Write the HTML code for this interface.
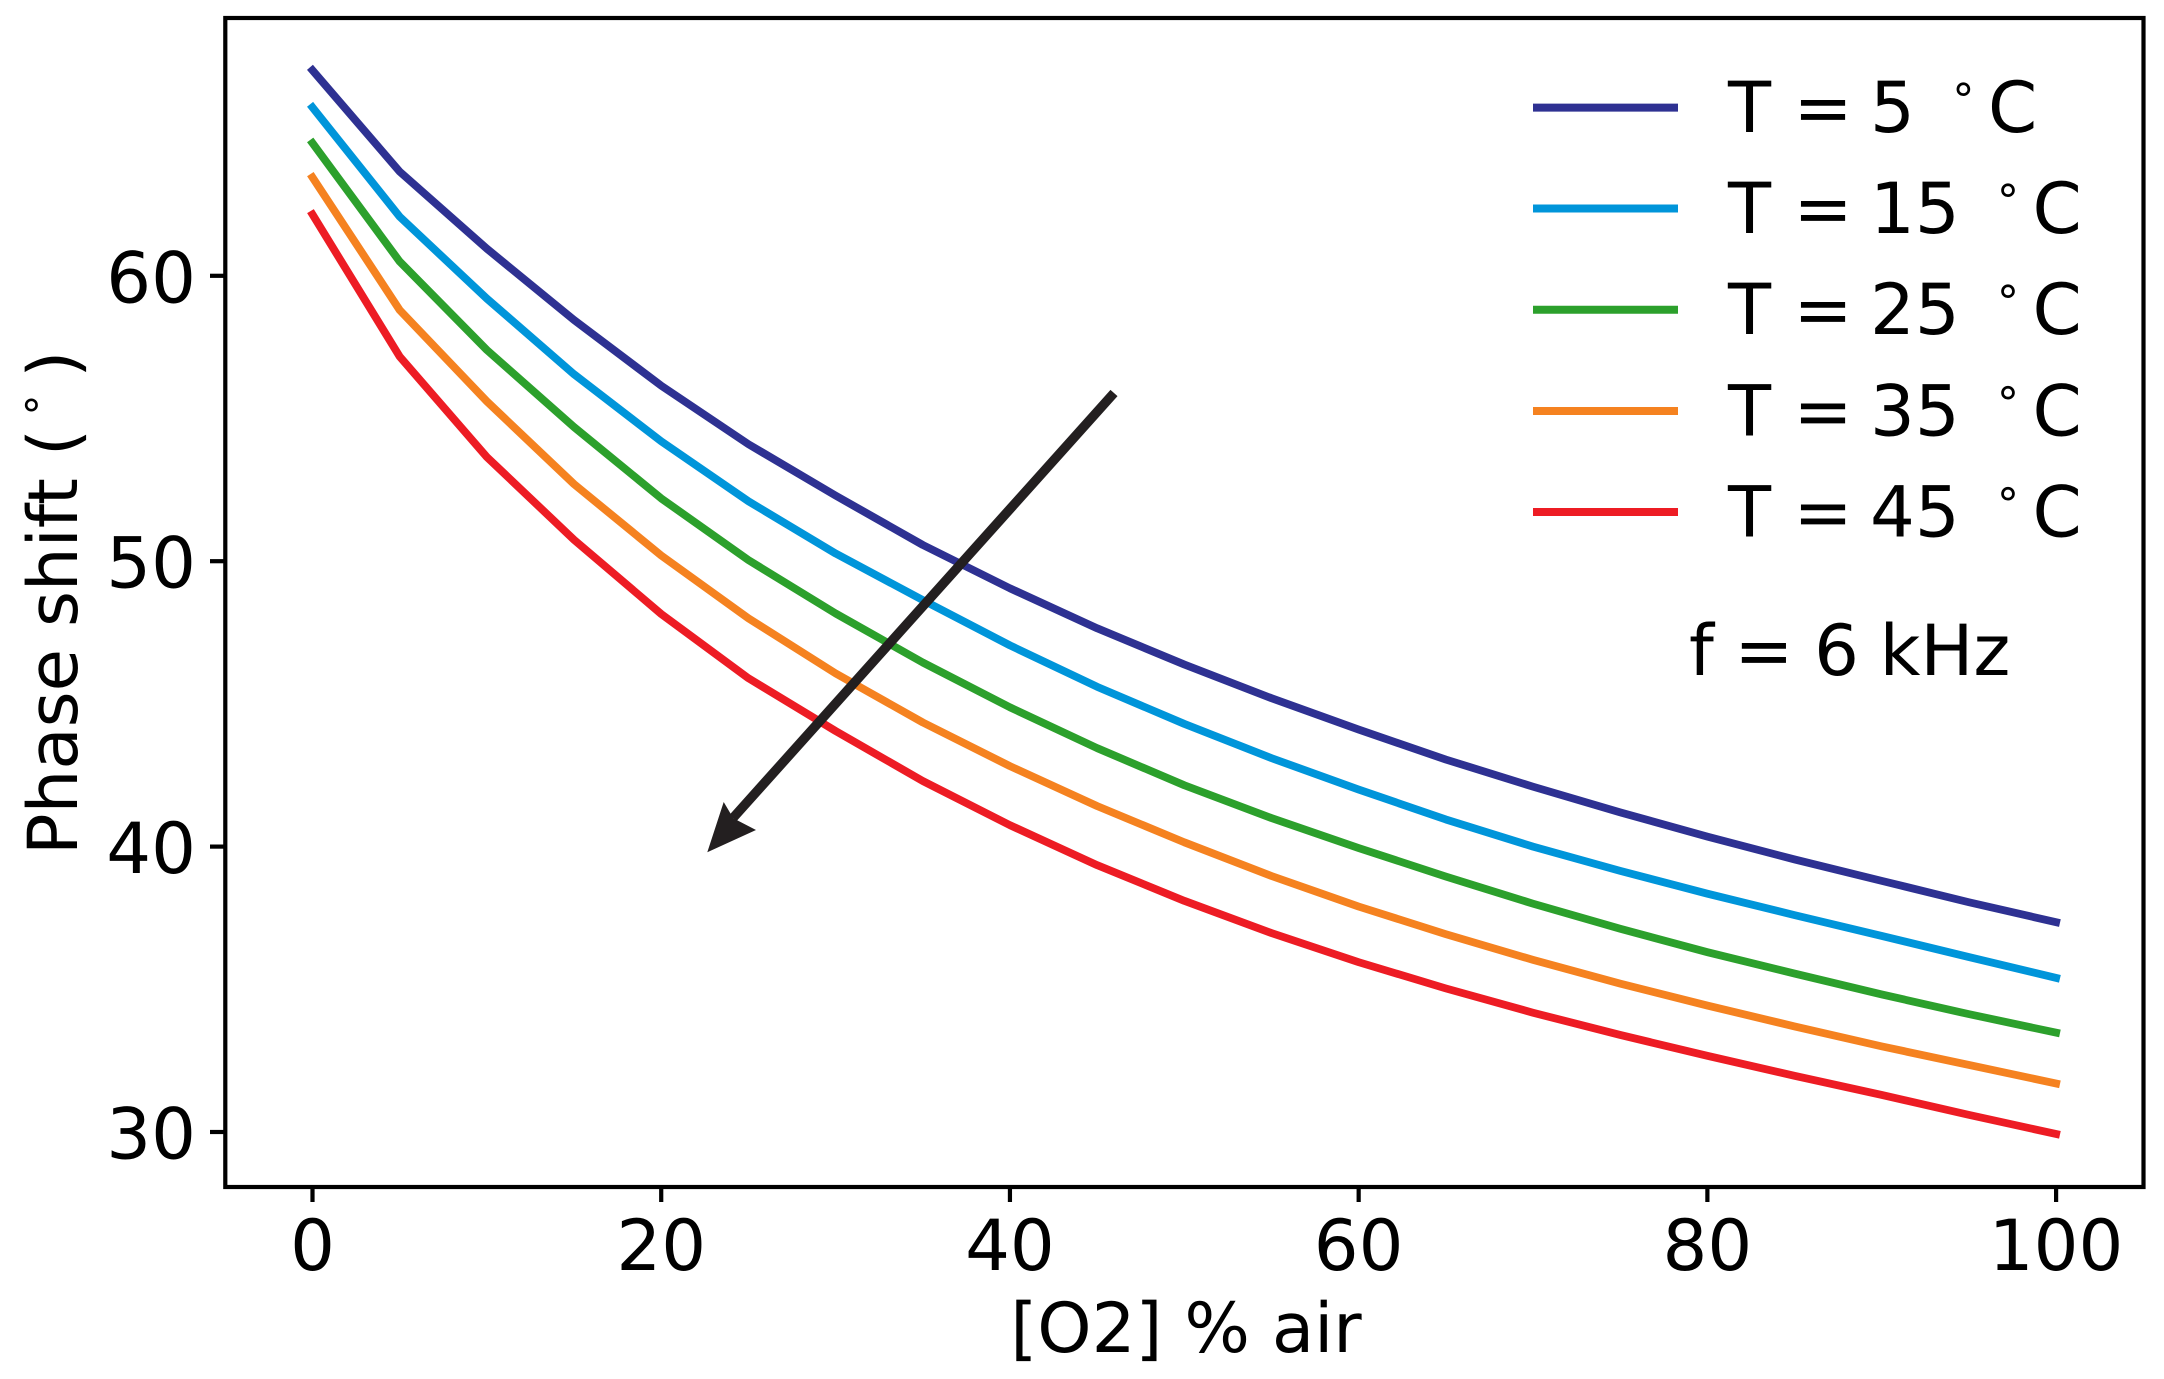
<!DOCTYPE html>
<html lang="en">
<head>
<meta charset="utf-8">
<title>Phase shift vs O2</title>
<style>
  html, body { margin: 0; padding: 0; background: #fff; }
  svg { display: block; }
  text { font-family: "DejaVu Sans", "Liberation Sans", sans-serif; fill: #000; text-rendering: geometricPrecision; }
</style>
</head>
<body>
<svg id="chart" xmlns="http://www.w3.org/2000/svg" width="2164" height="1379" viewBox="0 0 2164 1379">
  <rect x="0" y="0" width="2164" height="1379" fill="#fff"/>
  <g id="series-layer"></g>
  <g>
    <line x1="1114" y1="393" x2="733" y2="818" stroke="#231f20" stroke-width="9.5"/>
    <polygon points="707.3,852.3 723.7,802 733.3,818.3 756,830" fill="#231f20"/>
  </g>
  <rect x="225.3" y="18" width="1918.2" height="1169" fill="none" stroke="#000" stroke-width="4.2"/>
  <g id="axis-layer"></g>

  <text x="1186" y="1352" font-size="69" text-anchor="middle">[O2] % air</text>
  <text transform="translate(77 855) rotate(-90)" font-size="69">Phase shift<tspan x="399">(</tspan><tspan x="450" y="-21" font-size="42" text-anchor="middle">°</tspan><tspan x="477.4" y="0">)</tspan></text>

  <g>
    <g>
      <line x1="1533" y1="107.6" x2="1678" y2="107.6" stroke="#2e3192" stroke-width="8"/>
      <text x="1728" y="132" font-size="70.5">T =<tspan x="1870">5</tspan><tspan x="1963.4" y="115" font-size="44" text-anchor="middle">°</tspan><tspan x="1988" y="132">C</tspan></text>
    </g>
    <g>
      <line x1="1533" y1="208.5" x2="1678" y2="208.5" stroke="#0095da" stroke-width="8"/>
      <text x="1728" y="233" font-size="70.5">T =<tspan x="1870">15</tspan><tspan x="2008" y="216" font-size="44" text-anchor="middle">°</tspan><tspan x="2032.5" y="233">C</tspan></text>
    </g>
    <g>
      <line x1="1533" y1="309.8" x2="1678" y2="309.8" stroke="#2ca02c" stroke-width="8"/>
      <text x="1728" y="334" font-size="70.5">T =<tspan x="1870">25</tspan><tspan x="2008" y="317" font-size="44" text-anchor="middle">°</tspan><tspan x="2032.5" y="334">C</tspan></text>
    </g>
    <g>
      <line x1="1533" y1="411" x2="1678" y2="411" stroke="#f58220" stroke-width="8"/>
      <text x="1728" y="435.5" font-size="70.5">T =<tspan x="1870">35</tspan><tspan x="2008" y="418.5" font-size="44" text-anchor="middle">°</tspan><tspan x="2032.5" y="435.5">C</tspan></text>
    </g>
    <g>
      <line x1="1533" y1="512" x2="1678" y2="512" stroke="#ed1c24" stroke-width="8"/>
      <text x="1728" y="536.5" font-size="70.5">T =<tspan x="1870">45</tspan><tspan x="2008" y="519.5" font-size="44" text-anchor="middle">°</tspan><tspan x="2032.5" y="536.5">C</tspan></text>
    </g>
  </g>
  <text x="1689" y="675" font-size="70.5" word-spacing="-1.8">f = 6 kHz</text>
</svg>
<script>
const o2Levels = [0, 5, 10, 15, 20, 25, 30, 35, 40, 45, 50, 55, 60, 65, 70, 75, 80, 85, 90, 95, 100];
const phaseT5 = [67.2, 63.65, 60.95, 58.45, 56.15, 54.1, 52.3, 50.57, 49.05, 47.65, 46.38, 45.2, 44.1, 43.05, 42.1, 41.2, 40.35, 39.55, 38.8, 38.05, 37.35];
const phaseT15 = [65.9, 62.07, 59.2, 56.55, 54.2, 52.1, 50.27, 48.64, 47.05, 45.6, 44.3, 43.1, 42.0, 40.95, 40.0, 39.15, 38.35, 37.6, 36.87, 36.13, 35.4];
const phaseT25 = [64.65, 60.5, 57.4, 54.7, 52.2, 50.04, 48.17, 46.45, 44.88, 43.45, 42.15, 41.0, 39.95, 38.95, 38.0, 37.12, 36.3, 35.55, 34.82, 34.13, 33.48];
const phaseT35 = [63.45, 58.8, 55.6, 52.7, 50.2, 48.0, 46.07, 44.35, 42.82, 41.42, 40.15, 38.97, 37.9, 36.93, 36.03, 35.2, 34.43, 33.7, 33.0, 32.35, 31.7];
const phaseT45 = [62.15, 57.17, 53.65, 50.75, 48.15, 45.9, 44.05, 42.3, 40.75, 39.35, 38.1, 36.97, 35.95, 35.03, 34.18, 33.4, 32.67, 31.97, 31.3, 30.6, 29.93];
const xTicks = [0, 20, 40, 60, 80, 100];
const yTicks = [30, 40, 50, 60];

const NS = 'http://www.w3.org/2000/svg';
const xScale = function (v) { return 312.5 + 17.436 * v; };
const yScale = function (v) { return 1132 - 28.54 * (v - 30); };

const seriesLayer = document.getElementById('series-layer');
const axisLayer = document.getElementById('axis-layer');

function drawSeries(values, color, name) {
  const path = document.createElementNS(NS, 'polyline');
  
  
  path.setAttribute('points', values.map(function (v, i) {
    return xScale(o2Levels[i]).toFixed(2) + ',' + yScale(v).toFixed(2);
  }).join(' '));
  path.setAttribute('fill', 'none');
  path.setAttribute('stroke', color);
  path.setAttribute('stroke-width', '7.8');
  path.setAttribute('stroke-linecap', 'square');
  path.setAttribute('stroke-linejoin', 'round');
  seriesLayer.appendChild(path);
}
drawSeries(phaseT5, '#2e3192', 'series-t-5c');
drawSeries(phaseT15, '#0095da', 'series-t-15c');
drawSeries(phaseT25, '#2ca02c', 'series-t-25c');
drawSeries(phaseT35, '#f58220', 'series-t-35c');
drawSeries(phaseT45, '#ed1c24', 'series-t-45c');

xTicks.forEach(function (t) {
  const tick = document.createElementNS(NS, 'line');
  
  
  tick.setAttribute('x1', xScale(t));
  tick.setAttribute('x2', xScale(t));
  tick.setAttribute('y1', 1187);
  tick.setAttribute('y2', 1202);
  tick.setAttribute('stroke', '#000');
  tick.setAttribute('stroke-width', '4.2');
  axisLayer.appendChild(tick);
  const label = document.createElementNS(NS, 'text');
  
  
  label.setAttribute('x', xScale(t));
  label.setAttribute('y', 1270);
  label.setAttribute('font-size', '70.5');
  label.setAttribute('text-anchor', 'middle');
  label.textContent = String(t);
  axisLayer.appendChild(label);
});

yTicks.forEach(function (t) {
  const tick = document.createElementNS(NS, 'line');
  
  
  tick.setAttribute('x1', 210);
  tick.setAttribute('x2', 225.3);
  tick.setAttribute('y1', yScale(t));
  tick.setAttribute('y2', yScale(t));
  tick.setAttribute('stroke', '#000');
  tick.setAttribute('stroke-width', '4.2');
  axisLayer.appendChild(tick);
  const label = document.createElementNS(NS, 'text');
  
  
  label.setAttribute('x', 196);
  label.setAttribute('y', yScale(t) + 26.5);
  label.setAttribute('font-size', '70.5');
  label.setAttribute('text-anchor', 'end');
  label.textContent = String(t);
  axisLayer.appendChild(label);
});
</script>
</body>
</html>
